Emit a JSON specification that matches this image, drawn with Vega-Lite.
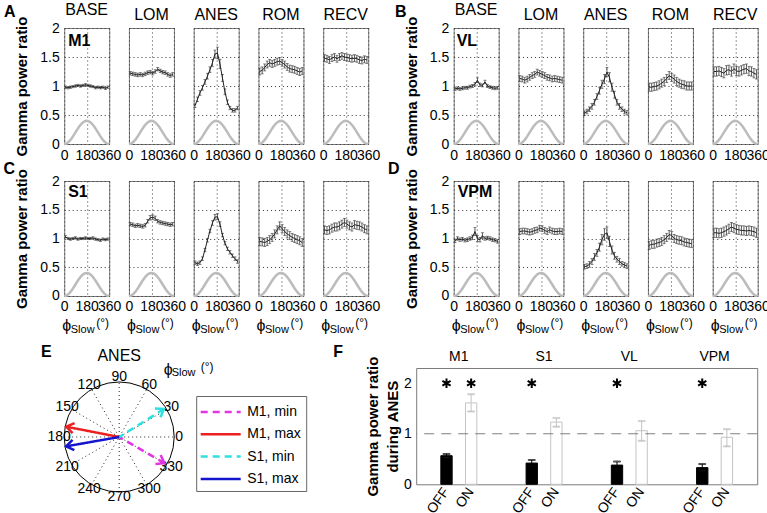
{
"$schema":"https://vega.github.io/schema/vega-lite/v6.json",
"padding":{"left":2.2,"top":1,"right":0,"bottom":0},
"background":"white",
"config":{
 "font":"Liberation Sans",
 "view":{"stroke":"#7a7a7a","strokeWidth":1},
 "axis":{"labelFont":"Liberation Sans","labelFontSize":14,"labelColor":"#000","titleFont":"Liberation Sans","titleColor":"#000","titleFontSize":15,"titleFontWeight":"bold","ticks":false,"domain":false,"gridDash":[1,3],"gridColor":"#333","gridOpacity":1,"labelFlush":false,"labelOverlap":false,"labelBound":false},
 "title":{"font":"Liberation Sans","fontSize":16,"fontWeight":"normal","offset":5,"color":"#000","frame":"group"},
 "text":{"font":"Liberation Sans","color":"#000"}
},
"datasets":{
 "cos":[{"p":0,"m":0},{"p":10,"m":0.003},{"p":20,"m":0.012},{"p":30,"m":0.0268},{"p":40,"m":0.0468},{"p":50,"m":0.0714},{"p":60,"m":0.1},{"p":70,"m":0.1316},{"p":80,"m":0.1653},{"p":90,"m":0.2},{"p":100,"m":0.2347},{"p":110,"m":0.2684},{"p":120,"m":0.3},{"p":130,"m":0.3286},{"p":140,"m":0.3532},{"p":150,"m":0.3732},{"p":160,"m":0.3879},{"p":170,"m":0.397},{"p":180,"m":0.4},{"p":190,"m":0.397},{"p":200,"m":0.3879},{"p":210,"m":0.3732},{"p":220,"m":0.3532},{"p":230,"m":0.3286},{"p":240,"m":0.3},{"p":250,"m":0.2684},{"p":260,"m":0.2347},{"p":270,"m":0.2},{"p":280,"m":0.1653},{"p":290,"m":0.1316},{"p":300,"m":0.1},{"p":310,"m":0.0714},{"p":320,"m":0.0468},{"p":330,"m":0.0268},{"p":340,"m":0.012},{"p":350,"m":0.003},{"p":360,"m":0}],
 "g":[
{"r":"M1","c":"BASE","p":10,"m":0.98,"e":0.02},{"r":"M1","c":"BASE","p":30,"m":0.97,"e":0.02},{"r":"M1","c":"BASE","p":50,"m":0.98,"e":0.02},{"r":"M1","c":"BASE","p":70,"m":0.99,"e":0.02},{"r":"M1","c":"BASE","p":90,"m":1.0,"e":0.02},{"r":"M1","c":"BASE","p":110,"m":1.01,"e":0.02},{"r":"M1","c":"BASE","p":130,"m":1.0,"e":0.02},{"r":"M1","c":"BASE","p":150,"m":1.01,"e":0.02},{"r":"M1","c":"BASE","p":170,"m":1.02,"e":0.02},{"r":"M1","c":"BASE","p":190,"m":1.01,"e":0.02},{"r":"M1","c":"BASE","p":210,"m":1.0,"e":0.02},{"r":"M1","c":"BASE","p":230,"m":0.99,"e":0.02},{"r":"M1","c":"BASE","p":250,"m":0.97,"e":0.02},{"r":"M1","c":"BASE","p":270,"m":0.98,"e":0.02},{"r":"M1","c":"BASE","p":290,"m":0.97,"e":0.02},{"r":"M1","c":"BASE","p":310,"m":0.98,"e":0.02},{"r":"M1","c":"BASE","p":330,"m":0.96,"e":0.02},{"r":"M1","c":"BASE","p":350,"m":0.98,"e":0.02},
{"r":"M1","c":"LOM","p":10,"m":1.22,"e":0.03},{"r":"M1","c":"LOM","p":30,"m":1.21,"e":0.03},{"r":"M1","c":"LOM","p":50,"m":1.2,"e":0.03},{"r":"M1","c":"LOM","p":70,"m":1.19,"e":0.03},{"r":"M1","c":"LOM","p":90,"m":1.2,"e":0.03},{"r":"M1","c":"LOM","p":110,"m":1.19,"e":0.03},{"r":"M1","c":"LOM","p":130,"m":1.21,"e":0.03},{"r":"M1","c":"LOM","p":150,"m":1.23,"e":0.03},{"r":"M1","c":"LOM","p":170,"m":1.24,"e":0.03},{"r":"M1","c":"LOM","p":190,"m":1.22,"e":0.03},{"r":"M1","c":"LOM","p":210,"m":1.25,"e":0.03},{"r":"M1","c":"LOM","p":230,"m":1.29,"e":0.03},{"r":"M1","c":"LOM","p":250,"m":1.26,"e":0.03},{"r":"M1","c":"LOM","p":270,"m":1.24,"e":0.03},{"r":"M1","c":"LOM","p":290,"m":1.23,"e":0.03},{"r":"M1","c":"LOM","p":310,"m":1.2,"e":0.03},{"r":"M1","c":"LOM","p":330,"m":1.18,"e":0.03},{"r":"M1","c":"LOM","p":350,"m":1.2,"e":0.03},
{"r":"M1","c":"ANES","p":10,"m":0.66,"e":0.03},{"r":"M1","c":"ANES","p":30,"m":0.77,"e":0.04},{"r":"M1","c":"ANES","p":50,"m":0.88,"e":0.04},{"r":"M1","c":"ANES","p":70,"m":0.97,"e":0.04},{"r":"M1","c":"ANES","p":90,"m":1.07,"e":0.04},{"r":"M1","c":"ANES","p":110,"m":1.17,"e":0.05},{"r":"M1","c":"ANES","p":130,"m":1.28,"e":0.05},{"r":"M1","c":"ANES","p":150,"m":1.4,"e":0.06},{"r":"M1","c":"ANES","p":170,"m":1.55,"e":0.07},{"r":"M1","c":"ANES","p":190,"m":1.57,"e":0.1},{"r":"M1","c":"ANES","p":210,"m":1.38,"e":0.08},{"r":"M1","c":"ANES","p":230,"m":1.14,"e":0.06},{"r":"M1","c":"ANES","p":250,"m":0.9,"e":0.05},{"r":"M1","c":"ANES","p":270,"m":0.72,"e":0.04},{"r":"M1","c":"ANES","p":290,"m":0.62,"e":0.03},{"r":"M1","c":"ANES","p":310,"m":0.58,"e":0.03},{"r":"M1","c":"ANES","p":330,"m":0.58,"e":0.03},{"r":"M1","c":"ANES","p":350,"m":0.62,"e":0.03},
{"r":"M1","c":"ROM","p":10,"m":1.25,"e":0.06},{"r":"M1","c":"ROM","p":30,"m":1.27,"e":0.06},{"r":"M1","c":"ROM","p":50,"m":1.32,"e":0.06},{"r":"M1","c":"ROM","p":70,"m":1.37,"e":0.06},{"r":"M1","c":"ROM","p":90,"m":1.4,"e":0.06},{"r":"M1","c":"ROM","p":110,"m":1.38,"e":0.06},{"r":"M1","c":"ROM","p":130,"m":1.4,"e":0.06},{"r":"M1","c":"ROM","p":150,"m":1.42,"e":0.06},{"r":"M1","c":"ROM","p":170,"m":1.43,"e":0.06},{"r":"M1","c":"ROM","p":190,"m":1.4,"e":0.06},{"r":"M1","c":"ROM","p":210,"m":1.37,"e":0.06},{"r":"M1","c":"ROM","p":230,"m":1.33,"e":0.06},{"r":"M1","c":"ROM","p":250,"m":1.3,"e":0.06},{"r":"M1","c":"ROM","p":270,"m":1.29,"e":0.06},{"r":"M1","c":"ROM","p":290,"m":1.28,"e":0.06},{"r":"M1","c":"ROM","p":310,"m":1.26,"e":0.06},{"r":"M1","c":"ROM","p":330,"m":1.24,"e":0.06},{"r":"M1","c":"ROM","p":350,"m":1.26,"e":0.06},
{"r":"M1","c":"RECV","p":10,"m":1.48,"e":0.06},{"r":"M1","c":"RECV","p":30,"m":1.47,"e":0.06},{"r":"M1","c":"RECV","p":50,"m":1.45,"e":0.06},{"r":"M1","c":"RECV","p":70,"m":1.48,"e":0.06},{"r":"M1","c":"RECV","p":90,"m":1.5,"e":0.06},{"r":"M1","c":"RECV","p":110,"m":1.47,"e":0.06},{"r":"M1","c":"RECV","p":130,"m":1.5,"e":0.06},{"r":"M1","c":"RECV","p":150,"m":1.52,"e":0.06},{"r":"M1","c":"RECV","p":170,"m":1.5,"e":0.06},{"r":"M1","c":"RECV","p":190,"m":1.49,"e":0.06},{"r":"M1","c":"RECV","p":210,"m":1.48,"e":0.06},{"r":"M1","c":"RECV","p":230,"m":1.47,"e":0.06},{"r":"M1","c":"RECV","p":250,"m":1.48,"e":0.06},{"r":"M1","c":"RECV","p":270,"m":1.47,"e":0.06},{"r":"M1","c":"RECV","p":290,"m":1.45,"e":0.06},{"r":"M1","c":"RECV","p":310,"m":1.44,"e":0.06},{"r":"M1","c":"RECV","p":330,"m":1.46,"e":0.06},{"r":"M1","c":"RECV","p":350,"m":1.45,"e":0.06},
{"r":"VL","c":"BASE","p":10,"m":0.95,"e":0.025},{"r":"VL","c":"BASE","p":30,"m":0.96,"e":0.025},{"r":"VL","c":"BASE","p":50,"m":0.95,"e":0.025},{"r":"VL","c":"BASE","p":70,"m":0.96,"e":0.025},{"r":"VL","c":"BASE","p":90,"m":0.97,"e":0.025},{"r":"VL","c":"BASE","p":110,"m":0.97,"e":0.025},{"r":"VL","c":"BASE","p":130,"m":0.99,"e":0.025},{"r":"VL","c":"BASE","p":150,"m":1.0,"e":0.025},{"r":"VL","c":"BASE","p":170,"m":1.03,"e":0.03},{"r":"VL","c":"BASE","p":190,"m":1.1,"e":0.04},{"r":"VL","c":"BASE","p":210,"m":1.02,"e":0.03},{"r":"VL","c":"BASE","p":230,"m":1.01,"e":0.025},{"r":"VL","c":"BASE","p":250,"m":1.07,"e":0.03},{"r":"VL","c":"BASE","p":270,"m":1.0,"e":0.025},{"r":"VL","c":"BASE","p":290,"m":0.98,"e":0.025},{"r":"VL","c":"BASE","p":310,"m":0.97,"e":0.025},{"r":"VL","c":"BASE","p":330,"m":0.96,"e":0.025},{"r":"VL","c":"BASE","p":350,"m":0.97,"e":0.025},
{"r":"VL","c":"LOM","p":10,"m":1.13,"e":0.05},{"r":"VL","c":"LOM","p":30,"m":1.12,"e":0.05},{"r":"VL","c":"LOM","p":50,"m":1.1,"e":0.05},{"r":"VL","c":"LOM","p":70,"m":1.12,"e":0.05},{"r":"VL","c":"LOM","p":90,"m":1.15,"e":0.05},{"r":"VL","c":"LOM","p":110,"m":1.18,"e":0.05},{"r":"VL","c":"LOM","p":130,"m":1.2,"e":0.05},{"r":"VL","c":"LOM","p":150,"m":1.24,"e":0.05},{"r":"VL","c":"LOM","p":170,"m":1.22,"e":0.05},{"r":"VL","c":"LOM","p":190,"m":1.2,"e":0.05},{"r":"VL","c":"LOM","p":210,"m":1.18,"e":0.05},{"r":"VL","c":"LOM","p":230,"m":1.15,"e":0.05},{"r":"VL","c":"LOM","p":250,"m":1.14,"e":0.05},{"r":"VL","c":"LOM","p":270,"m":1.12,"e":0.05},{"r":"VL","c":"LOM","p":290,"m":1.13,"e":0.05},{"r":"VL","c":"LOM","p":310,"m":1.12,"e":0.05},{"r":"VL","c":"LOM","p":330,"m":1.11,"e":0.05},{"r":"VL","c":"LOM","p":350,"m":1.1,"e":0.05},
{"r":"VL","c":"ANES","p":10,"m":0.53,"e":0.04},{"r":"VL","c":"ANES","p":30,"m":0.56,"e":0.04},{"r":"VL","c":"ANES","p":50,"m":0.6,"e":0.04},{"r":"VL","c":"ANES","p":70,"m":0.65,"e":0.05},{"r":"VL","c":"ANES","p":90,"m":0.72,"e":0.05},{"r":"VL","c":"ANES","p":110,"m":0.82,"e":0.05},{"r":"VL","c":"ANES","p":130,"m":0.92,"e":0.06},{"r":"VL","c":"ANES","p":150,"m":1.03,"e":0.07},{"r":"VL","c":"ANES","p":170,"m":1.12,"e":0.08},{"r":"VL","c":"ANES","p":190,"m":1.24,"e":0.08},{"r":"VL","c":"ANES","p":210,"m":1.15,"e":0.08},{"r":"VL","c":"ANES","p":230,"m":0.98,"e":0.07},{"r":"VL","c":"ANES","p":250,"m":0.85,"e":0.06},{"r":"VL","c":"ANES","p":270,"m":0.72,"e":0.05},{"r":"VL","c":"ANES","p":290,"m":0.65,"e":0.05},{"r":"VL","c":"ANES","p":310,"m":0.6,"e":0.04},{"r":"VL","c":"ANES","p":330,"m":0.56,"e":0.04},{"r":"VL","c":"ANES","p":350,"m":0.54,"e":0.04},
{"r":"VL","c":"ROM","p":10,"m":0.98,"e":0.07},{"r":"VL","c":"ROM","p":30,"m":0.98,"e":0.07},{"r":"VL","c":"ROM","p":50,"m":0.99,"e":0.07},{"r":"VL","c":"ROM","p":70,"m":1.0,"e":0.07},{"r":"VL","c":"ROM","p":90,"m":1.02,"e":0.07},{"r":"VL","c":"ROM","p":110,"m":1.05,"e":0.07},{"r":"VL","c":"ROM","p":130,"m":1.08,"e":0.07},{"r":"VL","c":"ROM","p":150,"m":1.13,"e":0.07},{"r":"VL","c":"ROM","p":170,"m":1.18,"e":0.07},{"r":"VL","c":"ROM","p":190,"m":1.15,"e":0.07},{"r":"VL","c":"ROM","p":210,"m":1.12,"e":0.07},{"r":"VL","c":"ROM","p":230,"m":1.08,"e":0.07},{"r":"VL","c":"ROM","p":250,"m":1.05,"e":0.07},{"r":"VL","c":"ROM","p":270,"m":1.03,"e":0.07},{"r":"VL","c":"ROM","p":290,"m":1.02,"e":0.07},{"r":"VL","c":"ROM","p":310,"m":1.0,"e":0.07},{"r":"VL","c":"ROM","p":330,"m":1.0,"e":0.07},{"r":"VL","c":"ROM","p":350,"m":1.0,"e":0.07},
{"r":"VL","c":"RECV","p":10,"m":1.25,"e":0.08},{"r":"VL","c":"RECV","p":30,"m":1.25,"e":0.08},{"r":"VL","c":"RECV","p":50,"m":1.26,"e":0.08},{"r":"VL","c":"RECV","p":70,"m":1.24,"e":0.08},{"r":"VL","c":"RECV","p":90,"m":1.22,"e":0.08},{"r":"VL","c":"RECV","p":110,"m":1.27,"e":0.08},{"r":"VL","c":"RECV","p":130,"m":1.28,"e":0.08},{"r":"VL","c":"RECV","p":150,"m":1.25,"e":0.08},{"r":"VL","c":"RECV","p":170,"m":1.3,"e":0.08},{"r":"VL","c":"RECV","p":190,"m":1.26,"e":0.08},{"r":"VL","c":"RECV","p":210,"m":1.25,"e":0.08},{"r":"VL","c":"RECV","p":230,"m":1.27,"e":0.08},{"r":"VL","c":"RECV","p":250,"m":1.29,"e":0.08},{"r":"VL","c":"RECV","p":270,"m":1.3,"e":0.08},{"r":"VL","c":"RECV","p":290,"m":1.26,"e":0.08},{"r":"VL","c":"RECV","p":310,"m":1.25,"e":0.08},{"r":"VL","c":"RECV","p":330,"m":1.22,"e":0.08},{"r":"VL","c":"RECV","p":350,"m":1.2,"e":0.08},
{"r":"S1","c":"BASE","p":10,"m":1.03,"e":0.02},{"r":"S1","c":"BASE","p":30,"m":1.0,"e":0.02},{"r":"S1","c":"BASE","p":50,"m":0.99,"e":0.02},{"r":"S1","c":"BASE","p":70,"m":1.0,"e":0.02},{"r":"S1","c":"BASE","p":90,"m":1.01,"e":0.02},{"r":"S1","c":"BASE","p":110,"m":0.99,"e":0.02},{"r":"S1","c":"BASE","p":130,"m":1.0,"e":0.02},{"r":"S1","c":"BASE","p":150,"m":1.0,"e":0.02},{"r":"S1","c":"BASE","p":170,"m":1.01,"e":0.02},{"r":"S1","c":"BASE","p":190,"m":1.0,"e":0.02},{"r":"S1","c":"BASE","p":210,"m":1.0,"e":0.02},{"r":"S1","c":"BASE","p":230,"m":1.01,"e":0.02},{"r":"S1","c":"BASE","p":250,"m":0.99,"e":0.02},{"r":"S1","c":"BASE","p":270,"m":0.98,"e":0.02},{"r":"S1","c":"BASE","p":290,"m":0.97,"e":0.02},{"r":"S1","c":"BASE","p":310,"m":0.99,"e":0.02},{"r":"S1","c":"BASE","p":330,"m":0.98,"e":0.02},{"r":"S1","c":"BASE","p":350,"m":0.99,"e":0.02},
{"r":"S1","c":"LOM","p":10,"m":1.25,"e":0.03},{"r":"S1","c":"LOM","p":30,"m":1.24,"e":0.03},{"r":"S1","c":"LOM","p":50,"m":1.22,"e":0.03},{"r":"S1","c":"LOM","p":70,"m":1.23,"e":0.03},{"r":"S1","c":"LOM","p":90,"m":1.22,"e":0.03},{"r":"S1","c":"LOM","p":110,"m":1.21,"e":0.03},{"r":"S1","c":"LOM","p":130,"m":1.23,"e":0.03},{"r":"S1","c":"LOM","p":150,"m":1.3,"e":0.03},{"r":"S1","c":"LOM","p":170,"m":1.36,"e":0.04},{"r":"S1","c":"LOM","p":190,"m":1.37,"e":0.04},{"r":"S1","c":"LOM","p":210,"m":1.35,"e":0.04},{"r":"S1","c":"LOM","p":230,"m":1.3,"e":0.03},{"r":"S1","c":"LOM","p":250,"m":1.28,"e":0.03},{"r":"S1","c":"LOM","p":270,"m":1.27,"e":0.03},{"r":"S1","c":"LOM","p":290,"m":1.26,"e":0.03},{"r":"S1","c":"LOM","p":310,"m":1.25,"e":0.03},{"r":"S1","c":"LOM","p":330,"m":1.24,"e":0.03},{"r":"S1","c":"LOM","p":350,"m":1.25,"e":0.03},
{"r":"S1","c":"ANES","p":10,"m":0.58,"e":0.03},{"r":"S1","c":"ANES","p":30,"m":0.56,"e":0.03},{"r":"S1","c":"ANES","p":50,"m":0.58,"e":0.03},{"r":"S1","c":"ANES","p":70,"m":0.65,"e":0.03},{"r":"S1","c":"ANES","p":90,"m":0.8,"e":0.03},{"r":"S1","c":"ANES","p":110,"m":0.97,"e":0.03},{"r":"S1","c":"ANES","p":130,"m":1.13,"e":0.03},{"r":"S1","c":"ANES","p":150,"m":1.27,"e":0.04},{"r":"S1","c":"ANES","p":170,"m":1.37,"e":0.05},{"r":"S1","c":"ANES","p":190,"m":1.38,"e":0.05},{"r":"S1","c":"ANES","p":210,"m":1.25,"e":0.04},{"r":"S1","c":"ANES","p":230,"m":1.06,"e":0.03},{"r":"S1","c":"ANES","p":250,"m":0.92,"e":0.03},{"r":"S1","c":"ANES","p":270,"m":0.82,"e":0.03},{"r":"S1","c":"ANES","p":290,"m":0.76,"e":0.03},{"r":"S1","c":"ANES","p":310,"m":0.7,"e":0.03},{"r":"S1","c":"ANES","p":330,"m":0.65,"e":0.03},{"r":"S1","c":"ANES","p":350,"m":0.6,"e":0.03},
{"r":"S1","c":"ROM","p":10,"m":0.95,"e":0.07},{"r":"S1","c":"ROM","p":30,"m":0.94,"e":0.07},{"r":"S1","c":"ROM","p":50,"m":0.93,"e":0.07},{"r":"S1","c":"ROM","p":70,"m":0.95,"e":0.07},{"r":"S1","c":"ROM","p":90,"m":0.98,"e":0.07},{"r":"S1","c":"ROM","p":110,"m":1.02,"e":0.07},{"r":"S1","c":"ROM","p":130,"m":1.08,"e":0.07},{"r":"S1","c":"ROM","p":150,"m":1.15,"e":0.07},{"r":"S1","c":"ROM","p":170,"m":1.22,"e":0.07},{"r":"S1","c":"ROM","p":190,"m":1.17,"e":0.07},{"r":"S1","c":"ROM","p":210,"m":1.12,"e":0.07},{"r":"S1","c":"ROM","p":230,"m":1.08,"e":0.07},{"r":"S1","c":"ROM","p":250,"m":1.05,"e":0.07},{"r":"S1","c":"ROM","p":270,"m":1.02,"e":0.07},{"r":"S1","c":"ROM","p":290,"m":1.0,"e":0.07},{"r":"S1","c":"ROM","p":310,"m":0.98,"e":0.07},{"r":"S1","c":"ROM","p":330,"m":0.96,"e":0.07},{"r":"S1","c":"ROM","p":350,"m":0.93,"e":0.07},
{"r":"S1","c":"RECV","p":10,"m":1.15,"e":0.07},{"r":"S1","c":"RECV","p":30,"m":1.14,"e":0.07},{"r":"S1","c":"RECV","p":50,"m":1.15,"e":0.07},{"r":"S1","c":"RECV","p":70,"m":1.18,"e":0.07},{"r":"S1","c":"RECV","p":90,"m":1.2,"e":0.07},{"r":"S1","c":"RECV","p":110,"m":1.2,"e":0.07},{"r":"S1","c":"RECV","p":130,"m":1.22,"e":0.07},{"r":"S1","c":"RECV","p":150,"m":1.25,"e":0.07},{"r":"S1","c":"RECV","p":170,"m":1.28,"e":0.07},{"r":"S1","c":"RECV","p":190,"m":1.25,"e":0.07},{"r":"S1","c":"RECV","p":210,"m":1.22,"e":0.07},{"r":"S1","c":"RECV","p":230,"m":1.2,"e":0.07},{"r":"S1","c":"RECV","p":250,"m":1.24,"e":0.07},{"r":"S1","c":"RECV","p":270,"m":1.23,"e":0.07},{"r":"S1","c":"RECV","p":290,"m":1.22,"e":0.07},{"r":"S1","c":"RECV","p":310,"m":1.2,"e":0.07},{"r":"S1","c":"RECV","p":330,"m":1.17,"e":0.07},{"r":"S1","c":"RECV","p":350,"m":1.15,"e":0.07},
{"r":"VPM","c":"BASE","p":10,"m":0.96,"e":0.03},{"r":"VPM","c":"BASE","p":30,"m":1.0,"e":0.03},{"r":"VPM","c":"BASE","p":50,"m":0.98,"e":0.03},{"r":"VPM","c":"BASE","p":70,"m":0.99,"e":0.03},{"r":"VPM","c":"BASE","p":90,"m":0.97,"e":0.03},{"r":"VPM","c":"BASE","p":110,"m":0.98,"e":0.03},{"r":"VPM","c":"BASE","p":130,"m":1.0,"e":0.03},{"r":"VPM","c":"BASE","p":150,"m":1.02,"e":0.04},{"r":"VPM","c":"BASE","p":170,"m":1.12,"e":0.07},{"r":"VPM","c":"BASE","p":190,"m":1.0,"e":0.05},{"r":"VPM","c":"BASE","p":210,"m":0.98,"e":0.04},{"r":"VPM","c":"BASE","p":230,"m":1.05,"e":0.05},{"r":"VPM","c":"BASE","p":250,"m":1.0,"e":0.03},{"r":"VPM","c":"BASE","p":270,"m":1.01,"e":0.03},{"r":"VPM","c":"BASE","p":290,"m":1.0,"e":0.03},{"r":"VPM","c":"BASE","p":310,"m":0.98,"e":0.03},{"r":"VPM","c":"BASE","p":330,"m":0.97,"e":0.03},{"r":"VPM","c":"BASE","p":350,"m":0.95,"e":0.03},
{"r":"VPM","c":"LOM","p":10,"m":1.12,"e":0.05},{"r":"VPM","c":"LOM","p":30,"m":1.13,"e":0.05},{"r":"VPM","c":"LOM","p":50,"m":1.13,"e":0.05},{"r":"VPM","c":"LOM","p":70,"m":1.12,"e":0.05},{"r":"VPM","c":"LOM","p":90,"m":1.11,"e":0.05},{"r":"VPM","c":"LOM","p":110,"m":1.12,"e":0.05},{"r":"VPM","c":"LOM","p":130,"m":1.14,"e":0.05},{"r":"VPM","c":"LOM","p":150,"m":1.15,"e":0.05},{"r":"VPM","c":"LOM","p":170,"m":1.18,"e":0.05},{"r":"VPM","c":"LOM","p":190,"m":1.17,"e":0.05},{"r":"VPM","c":"LOM","p":210,"m":1.14,"e":0.05},{"r":"VPM","c":"LOM","p":230,"m":1.12,"e":0.05},{"r":"VPM","c":"LOM","p":250,"m":1.15,"e":0.05},{"r":"VPM","c":"LOM","p":270,"m":1.13,"e":0.05},{"r":"VPM","c":"LOM","p":290,"m":1.12,"e":0.05},{"r":"VPM","c":"LOM","p":310,"m":1.12,"e":0.05},{"r":"VPM","c":"LOM","p":330,"m":1.13,"e":0.05},{"r":"VPM","c":"LOM","p":350,"m":1.12,"e":0.05},
{"r":"VPM","c":"ANES","p":10,"m":0.51,"e":0.04},{"r":"VPM","c":"ANES","p":30,"m":0.52,"e":0.04},{"r":"VPM","c":"ANES","p":50,"m":0.55,"e":0.05},{"r":"VPM","c":"ANES","p":70,"m":0.6,"e":0.05},{"r":"VPM","c":"ANES","p":90,"m":0.68,"e":0.06},{"r":"VPM","c":"ANES","p":110,"m":0.75,"e":0.06},{"r":"VPM","c":"ANES","p":130,"m":0.85,"e":0.07},{"r":"VPM","c":"ANES","p":150,"m":0.98,"e":0.09},{"r":"VPM","c":"ANES","p":170,"m":1.07,"e":0.1},{"r":"VPM","c":"ANES","p":190,"m":1.1,"e":0.1},{"r":"VPM","c":"ANES","p":210,"m":0.95,"e":0.09},{"r":"VPM","c":"ANES","p":230,"m":0.8,"e":0.07},{"r":"VPM","c":"ANES","p":250,"m":0.7,"e":0.06},{"r":"VPM","c":"ANES","p":270,"m":0.64,"e":0.05},{"r":"VPM","c":"ANES","p":290,"m":0.6,"e":0.05},{"r":"VPM","c":"ANES","p":310,"m":0.56,"e":0.04},{"r":"VPM","c":"ANES","p":330,"m":0.54,"e":0.04},{"r":"VPM","c":"ANES","p":350,"m":0.52,"e":0.04},
{"r":"VPM","c":"ROM","p":10,"m":0.88,"e":0.07},{"r":"VPM","c":"ROM","p":30,"m":0.9,"e":0.07},{"r":"VPM","c":"ROM","p":50,"m":0.9,"e":0.07},{"r":"VPM","c":"ROM","p":70,"m":0.92,"e":0.07},{"r":"VPM","c":"ROM","p":90,"m":0.93,"e":0.07},{"r":"VPM","c":"ROM","p":110,"m":0.95,"e":0.07},{"r":"VPM","c":"ROM","p":130,"m":0.98,"e":0.07},{"r":"VPM","c":"ROM","p":150,"m":1.02,"e":0.07},{"r":"VPM","c":"ROM","p":170,"m":1.07,"e":0.07},{"r":"VPM","c":"ROM","p":190,"m":1.05,"e":0.07},{"r":"VPM","c":"ROM","p":210,"m":1.0,"e":0.07},{"r":"VPM","c":"ROM","p":230,"m":0.98,"e":0.07},{"r":"VPM","c":"ROM","p":250,"m":0.97,"e":0.07},{"r":"VPM","c":"ROM","p":270,"m":0.96,"e":0.07},{"r":"VPM","c":"ROM","p":290,"m":0.94,"e":0.07},{"r":"VPM","c":"ROM","p":310,"m":0.93,"e":0.07},{"r":"VPM","c":"ROM","p":330,"m":0.92,"e":0.07},{"r":"VPM","c":"ROM","p":350,"m":0.91,"e":0.07},
{"r":"VPM","c":"RECV","p":10,"m":1.1,"e":0.08},{"r":"VPM","c":"RECV","p":30,"m":1.1,"e":0.08},{"r":"VPM","c":"RECV","p":50,"m":1.09,"e":0.08},{"r":"VPM","c":"RECV","p":70,"m":1.1,"e":0.08},{"r":"VPM","c":"RECV","p":90,"m":1.12,"e":0.08},{"r":"VPM","c":"RECV","p":110,"m":1.14,"e":0.08},{"r":"VPM","c":"RECV","p":130,"m":1.17,"e":0.08},{"r":"VPM","c":"RECV","p":150,"m":1.2,"e":0.08},{"r":"VPM","c":"RECV","p":170,"m":1.18,"e":0.08},{"r":"VPM","c":"RECV","p":190,"m":1.16,"e":0.08},{"r":"VPM","c":"RECV","p":210,"m":1.15,"e":0.08},{"r":"VPM","c":"RECV","p":230,"m":1.14,"e":0.08},{"r":"VPM","c":"RECV","p":250,"m":1.14,"e":0.08},{"r":"VPM","c":"RECV","p":270,"m":1.13,"e":0.08},{"r":"VPM","c":"RECV","p":290,"m":1.14,"e":0.08},{"r":"VPM","c":"RECV","p":310,"m":1.13,"e":0.08},{"r":"VPM","c":"RECV","p":330,"m":1.12,"e":0.08},{"r":"VPM","c":"RECV","p":350,"m":1.1,"e":0.08}
 ],
 "bars":[
  {"r":"M1","s":"OFF","m":0.566,"lo":0.53,"hi":0.6,"a":1},
  {"r":"M1","s":"ON","m":1.61,"lo":1.44,"hi":1.78,"a":1},
  {"r":"S1","s":"OFF","m":0.42,"lo":0.36,"hi":0.48,"a":1},
  {"r":"S1","s":"ON","m":1.23,"lo":1.14,"hi":1.31,"a":0},
  {"r":"VL","s":"OFF","m":0.38,"lo":0.3,"hi":0.45,"a":1},
  {"r":"VL","s":"ON","m":1.06,"lo":0.86,"hi":1.25,"a":0},
  {"r":"VPM","s":"OFF","m":0.33,"lo":0.27,"hi":0.4,"a":1},
  {"r":"VPM","s":"ON","m":0.93,"lo":0.75,"hi":1.09,"a":0}
 ],
 "spokes":[{"x":-1,"y":0,"x2":1,"y2":0},{"x":-0.866,"y":-0.5,"x2":0.866,"y2":0.5},{"x":-0.5,"y":-0.866,"x2":0.5,"y2":0.866},{"x":0,"y":-1,"x2":0,"y2":1},{"x":0.5,"y":-0.866,"x2":-0.5,"y2":0.866},{"x":0.866,"y":-0.5,"x2":-0.866,"y2":0.5}],
 "plab":[{"deg":0,"t":"0"},{"deg":30,"t":"30"},{"deg":60,"t":"60"},{"deg":90,"t":"90"},{"deg":120,"t":"120"},{"deg":150,"t":"150"},{"deg":180,"t":"180"},{"deg":210,"t":"210"},{"deg":240,"t":"240"},{"deg":270,"t":"270"},{"deg":300,"t":"300"},{"deg":330,"t":"330"}],
 "arr":[{"s":"M1, min","x":0.823,"y":-0.475,"ang":30},{"s":"M1, max","x":-0.962,"y":0.187,"ang":-169},{"s":"S1, min","x":0.814,"y":0.509,"ang":-32},{"s":"S1, max","x":-0.965,"y":-0.17,"ang":-190}]
},
"resolve":{"scale":{"color":"independent","strokeDash":"independent"}},
"spacing":7,
"vconcat":[
 {"columns":11,"align":"each","bounds":"flush","spacing":{"row":37,"column":19.75},
  "concat":[
    {"width":45,"height":116,"title":{"text":"BASE","offset":-2},"resolve":{"axis":{"x":"independent","y":"independent"}},"layer":[{"encoding":{"x":{"field":"p","type":"quantitative","scale":{"domain":[0,360],"nice":false},"axis":{"values":[0,180,360],"title":null,"labelPadding":4,"labelOverlap":false}},"y":{"field":"m","type":"quantitative","scale":{"domain":[0,2],"nice":false},"axis":{"values":[0,0.5,1,1.5,2],"format":"~g","title":"Gamma power ratio","labelPadding":5,"titlePadding":10,"labelOverlap":false}}},"layer":[{"data":{"name":"cos"},"mark":{"type":"line","color":"#bcbcbc","strokeWidth":2.5}},{"data":{"name":"g"},"transform":[{"filter":"datum.r=='M1'&&datum.c=='BASE'"}],"layer":[{"mark":{"type":"errorbar","ticks":{"size":3},"color":"#333","thickness":0.8},"encoding":{"yError":{"field":"e"}}},{"mark":{"type":"line","color":"#222","strokeWidth":1}}]}]},
      {"data":{"values":[{}]},"mark":{"type":"text","text":"M1","fontSize":16,"fontWeight":"bold","align":"left","baseline":"middle","dx":4,"dy":12.5},"encoding":{"x":{"datum":0,"axis":null},"y":{"datum":2,"axis":null}}}]},
    {"width":45,"height":116,"title":"LOM","layer":[{"encoding":{"x":{"field":"p","type":"quantitative","scale":{"domain":[0,360],"nice":false},"axis":{"values":[0,180,360],"title":null,"labelPadding":4,"labelOverlap":false}},"y":{"field":"m","type":"quantitative","scale":{"domain":[0,2],"nice":false},"axis":{"values":[0,0.5,1,1.5,2],"title":null,"labels":false}}},"layer":[{"data":{"name":"cos"},"mark":{"type":"line","color":"#bcbcbc","strokeWidth":2.5}},{"data":{"name":"g"},"transform":[{"filter":"datum.r=='M1'&&datum.c=='LOM'"}],"layer":[{"mark":{"type":"errorbar","ticks":{"size":3},"color":"#333","thickness":0.8},"encoding":{"yError":{"field":"e"}}},{"mark":{"type":"line","color":"#222","strokeWidth":1}}]}]}]},
    {"width":45,"height":116,"title":"ANES","layer":[{"encoding":{"x":{"field":"p","type":"quantitative","scale":{"domain":[0,360],"nice":false},"axis":{"values":[0,180,360],"title":null,"labelPadding":4,"labelOverlap":false}},"y":{"field":"m","type":"quantitative","scale":{"domain":[0,2],"nice":false},"axis":{"values":[0,0.5,1,1.5,2],"title":null,"labels":false}}},"layer":[{"data":{"name":"cos"},"mark":{"type":"line","color":"#bcbcbc","strokeWidth":2.5}},{"data":{"name":"g"},"transform":[{"filter":"datum.r=='M1'&&datum.c=='ANES'"}],"layer":[{"mark":{"type":"errorbar","ticks":{"size":3},"color":"#333","thickness":0.8},"encoding":{"yError":{"field":"e"}}},{"mark":{"type":"line","color":"#222","strokeWidth":1}}]}]}]},
    {"width":45,"height":116,"title":"ROM","layer":[{"encoding":{"x":{"field":"p","type":"quantitative","scale":{"domain":[0,360],"nice":false},"axis":{"values":[0,180,360],"title":null,"labelPadding":4,"labelOverlap":false}},"y":{"field":"m","type":"quantitative","scale":{"domain":[0,2],"nice":false},"axis":{"values":[0,0.5,1,1.5,2],"title":null,"labels":false}}},"layer":[{"data":{"name":"cos"},"mark":{"type":"line","color":"#bcbcbc","strokeWidth":2.5}},{"data":{"name":"g"},"transform":[{"filter":"datum.r=='M1'&&datum.c=='ROM'"}],"layer":[{"mark":{"type":"errorbar","ticks":{"size":3},"color":"#333","thickness":0.8},"encoding":{"yError":{"field":"e"}}},{"mark":{"type":"line","color":"#222","strokeWidth":1}}]}]}]},
    {"width":45,"height":116,"title":"RECV","layer":[{"encoding":{"x":{"field":"p","type":"quantitative","scale":{"domain":[0,360],"nice":false},"axis":{"values":[0,180,360],"title":null,"labelPadding":4,"labelOverlap":false}},"y":{"field":"m","type":"quantitative","scale":{"domain":[0,2],"nice":false},"axis":{"values":[0,0.5,1,1.5,2],"title":null,"labels":false}}},"layer":[{"data":{"name":"cos"},"mark":{"type":"line","color":"#bcbcbc","strokeWidth":2.5}},{"data":{"name":"g"},"transform":[{"filter":"datum.r=='M1'&&datum.c=='RECV'"}],"layer":[{"mark":{"type":"errorbar","ticks":{"size":3},"color":"#333","thickness":0.8},"encoding":{"yError":{"field":"e"}}},{"mark":{"type":"line","color":"#222","strokeWidth":1}}]}]}]},
    {"width":45.5,"height":116,"view":{"stroke":null},"data":{"values":[]},"mark":"point"},
    {"width":45,"height":116,"title":{"text":"BASE","offset":-2},"resolve":{"axis":{"x":"independent","y":"independent"}},"layer":[{"encoding":{"x":{"field":"p","type":"quantitative","scale":{"domain":[0,360],"nice":false},"axis":{"values":[0,180,360],"title":null,"labelPadding":4,"labelOverlap":false}},"y":{"field":"m","type":"quantitative","scale":{"domain":[0,2],"nice":false},"axis":{"values":[0,0.5,1,1.5,2],"format":"~g","title":"Gamma power ratio","labelPadding":5,"titlePadding":10,"labelOverlap":false}}},"layer":[{"data":{"name":"cos"},"mark":{"type":"line","color":"#bcbcbc","strokeWidth":2.5}},{"data":{"name":"g"},"transform":[{"filter":"datum.r=='VL'&&datum.c=='BASE'"}],"layer":[{"mark":{"type":"errorbar","ticks":{"size":3},"color":"#333","thickness":0.8},"encoding":{"yError":{"field":"e"}}},{"mark":{"type":"line","color":"#222","strokeWidth":1}}]}]},
      {"data":{"values":[{}]},"mark":{"type":"text","text":"VL","fontSize":16,"fontWeight":"bold","align":"left","baseline":"middle","dx":3,"dy":12.5},"encoding":{"x":{"datum":0,"axis":null},"y":{"datum":2,"axis":null}}}]},
    {"width":45,"height":116,"title":"LOM","layer":[{"encoding":{"x":{"field":"p","type":"quantitative","scale":{"domain":[0,360],"nice":false},"axis":{"values":[0,180,360],"title":null,"labelPadding":4,"labelOverlap":false}},"y":{"field":"m","type":"quantitative","scale":{"domain":[0,2],"nice":false},"axis":{"values":[0,0.5,1,1.5,2],"title":null,"labels":false}}},"layer":[{"data":{"name":"cos"},"mark":{"type":"line","color":"#bcbcbc","strokeWidth":2.5}},{"data":{"name":"g"},"transform":[{"filter":"datum.r=='VL'&&datum.c=='LOM'"}],"layer":[{"mark":{"type":"errorbar","ticks":{"size":3},"color":"#333","thickness":0.8},"encoding":{"yError":{"field":"e"}}},{"mark":{"type":"line","color":"#222","strokeWidth":1}}]}]}]},
    {"width":45,"height":116,"title":"ANES","layer":[{"encoding":{"x":{"field":"p","type":"quantitative","scale":{"domain":[0,360],"nice":false},"axis":{"values":[0,180,360],"title":null,"labelPadding":4,"labelOverlap":false}},"y":{"field":"m","type":"quantitative","scale":{"domain":[0,2],"nice":false},"axis":{"values":[0,0.5,1,1.5,2],"title":null,"labels":false}}},"layer":[{"data":{"name":"cos"},"mark":{"type":"line","color":"#bcbcbc","strokeWidth":2.5}},{"data":{"name":"g"},"transform":[{"filter":"datum.r=='VL'&&datum.c=='ANES'"}],"layer":[{"mark":{"type":"errorbar","ticks":{"size":3},"color":"#333","thickness":0.8},"encoding":{"yError":{"field":"e"}}},{"mark":{"type":"line","color":"#222","strokeWidth":1}}]}]}]},
    {"width":45,"height":116,"title":"ROM","layer":[{"encoding":{"x":{"field":"p","type":"quantitative","scale":{"domain":[0,360],"nice":false},"axis":{"values":[0,180,360],"title":null,"labelPadding":4,"labelOverlap":false}},"y":{"field":"m","type":"quantitative","scale":{"domain":[0,2],"nice":false},"axis":{"values":[0,0.5,1,1.5,2],"title":null,"labels":false}}},"layer":[{"data":{"name":"cos"},"mark":{"type":"line","color":"#bcbcbc","strokeWidth":2.5}},{"data":{"name":"g"},"transform":[{"filter":"datum.r=='VL'&&datum.c=='ROM'"}],"layer":[{"mark":{"type":"errorbar","ticks":{"size":3},"color":"#333","thickness":0.8},"encoding":{"yError":{"field":"e"}}},{"mark":{"type":"line","color":"#222","strokeWidth":1}}]}]}]},
    {"width":45,"height":116,"title":"RECV","layer":[{"encoding":{"x":{"field":"p","type":"quantitative","scale":{"domain":[0,360],"nice":false},"axis":{"values":[0,180,360],"title":null,"labelPadding":4,"labelOverlap":false}},"y":{"field":"m","type":"quantitative","scale":{"domain":[0,2],"nice":false},"axis":{"values":[0,0.5,1,1.5,2],"title":null,"labels":false}}},"layer":[{"data":{"name":"cos"},"mark":{"type":"line","color":"#bcbcbc","strokeWidth":2.5}},{"data":{"name":"g"},"transform":[{"filter":"datum.r=='VL'&&datum.c=='RECV'"}],"layer":[{"mark":{"type":"errorbar","ticks":{"size":3},"color":"#333","thickness":0.8},"encoding":{"yError":{"field":"e"}}},{"mark":{"type":"line","color":"#222","strokeWidth":1}}]}]}]},
    {"width":45,"height":115,"resolve":{"axis":{"x":"independent","y":"independent"}},"layer":[{"encoding":{"x":{"field":"p","type":"quantitative","scale":{"domain":[0,360],"nice":false},"axis":{"values":[0,180,360],"title":null,"labelPadding":4,"labelOverlap":false}},"y":{"field":"m","type":"quantitative","scale":{"domain":[0,2],"nice":false},"axis":{"values":[0,0.5,1,1.5,2],"format":"~g","title":"Gamma power ratio","labelPadding":5,"titlePadding":10,"labelOverlap":false}}},"layer":[{"data":{"name":"cos"},"mark":{"type":"line","color":"#bcbcbc","strokeWidth":2.5}},{"data":{"name":"g"},"transform":[{"filter":"datum.r=='S1'&&datum.c=='BASE'"}],"layer":[{"mark":{"type":"errorbar","ticks":{"size":3},"color":"#333","thickness":0.8},"encoding":{"yError":{"field":"e"}}},{"mark":{"type":"line","color":"#222","strokeWidth":1}}]}]},
      {"data":{"values":[{}]},"mark":{"type":"text","text":"S1","fontSize":16,"fontWeight":"bold","align":"left","baseline":"middle","dx":4,"dy":11},"encoding":{"x":{"datum":0,"axis":null},"y":{"datum":2,"axis":null}}},
      {"data":{"values":[{}]},"mark":{"type":"text","text":"A","fontSize":16,"fontWeight":"bold","align":"center","baseline":"middle","dx":-54.5,"dy":-169},"encoding":{"x":{"datum":0,"axis":null},"y":{"datum":2,"axis":null}}},
      {"data":{"values":[{}]},"mark":{"type":"text","text":"C","fontSize":16,"fontWeight":"bold","align":"center","baseline":"middle","dx":-55,"dy":-12},"encoding":{"x":{"datum":0,"axis":null},"y":{"datum":2,"axis":null}}},
      {"data":{"values":[{}]},"mark":{"type":"text","text":"ϕ","fontSize":16,"baseline":"middle","dx":-20,"dy":30},"encoding":{"x":{"datum":180,"axis":null},"y":{"datum":0,"axis":null}}},
      {"data":{"values":[{}]},"mark":{"type":"text","text":"Slow","fontSize":11,"baseline":"middle","dx":-4,"dy":34},"encoding":{"x":{"datum":180,"axis":null},"y":{"datum":0,"axis":null}}},
      {"data":{"values":[{}]},"mark":{"type":"text","text":"(°)","fontSize":12,"baseline":"middle","dx":16,"dy":27},"encoding":{"x":{"datum":180,"axis":null},"y":{"datum":0,"axis":null}}}]},
    {"width":45,"height":115,"resolve":{"axis":{"x":"independent","y":"independent"}},"layer":[{"encoding":{"x":{"field":"p","type":"quantitative","scale":{"domain":[0,360],"nice":false},"axis":{"values":[0,180,360],"title":null,"labelPadding":4,"labelOverlap":false}},"y":{"field":"m","type":"quantitative","scale":{"domain":[0,2],"nice":false},"axis":{"values":[0,0.5,1,1.5,2],"title":null,"labels":false}}},"layer":[{"data":{"name":"cos"},"mark":{"type":"line","color":"#bcbcbc","strokeWidth":2.5}},{"data":{"name":"g"},"transform":[{"filter":"datum.r=='S1'&&datum.c=='LOM'"}],"layer":[{"mark":{"type":"errorbar","ticks":{"size":3},"color":"#333","thickness":0.8},"encoding":{"yError":{"field":"e"}}},{"mark":{"type":"line","color":"#222","strokeWidth":1}}]}]},
      {"data":{"values":[{}]},"mark":{"type":"text","text":"ϕ","fontSize":16,"baseline":"middle","dx":-20,"dy":30},"encoding":{"x":{"datum":180,"axis":null},"y":{"datum":0,"axis":null}}},
      {"data":{"values":[{}]},"mark":{"type":"text","text":"Slow","fontSize":11,"baseline":"middle","dx":-4,"dy":34},"encoding":{"x":{"datum":180,"axis":null},"y":{"datum":0,"axis":null}}},
      {"data":{"values":[{}]},"mark":{"type":"text","text":"(°)","fontSize":12,"baseline":"middle","dx":16,"dy":27},"encoding":{"x":{"datum":180,"axis":null},"y":{"datum":0,"axis":null}}}]},
    {"width":45,"height":115,"resolve":{"axis":{"x":"independent","y":"independent"}},"layer":[{"encoding":{"x":{"field":"p","type":"quantitative","scale":{"domain":[0,360],"nice":false},"axis":{"values":[0,180,360],"title":null,"labelPadding":4,"labelOverlap":false}},"y":{"field":"m","type":"quantitative","scale":{"domain":[0,2],"nice":false},"axis":{"values":[0,0.5,1,1.5,2],"title":null,"labels":false}}},"layer":[{"data":{"name":"cos"},"mark":{"type":"line","color":"#bcbcbc","strokeWidth":2.5}},{"data":{"name":"g"},"transform":[{"filter":"datum.r=='S1'&&datum.c=='ANES'"}],"layer":[{"mark":{"type":"errorbar","ticks":{"size":3},"color":"#333","thickness":0.8},"encoding":{"yError":{"field":"e"}}},{"mark":{"type":"line","color":"#222","strokeWidth":1}}]}]},
      {"data":{"values":[{}]},"mark":{"type":"text","text":"ϕ","fontSize":16,"baseline":"middle","dx":-20,"dy":30},"encoding":{"x":{"datum":180,"axis":null},"y":{"datum":0,"axis":null}}},
      {"data":{"values":[{}]},"mark":{"type":"text","text":"Slow","fontSize":11,"baseline":"middle","dx":-4,"dy":34},"encoding":{"x":{"datum":180,"axis":null},"y":{"datum":0,"axis":null}}},
      {"data":{"values":[{}]},"mark":{"type":"text","text":"(°)","fontSize":12,"baseline":"middle","dx":16,"dy":27},"encoding":{"x":{"datum":180,"axis":null},"y":{"datum":0,"axis":null}}}]},
    {"width":45,"height":115,"resolve":{"axis":{"x":"independent","y":"independent"}},"layer":[{"encoding":{"x":{"field":"p","type":"quantitative","scale":{"domain":[0,360],"nice":false},"axis":{"values":[0,180,360],"title":null,"labelPadding":4,"labelOverlap":false}},"y":{"field":"m","type":"quantitative","scale":{"domain":[0,2],"nice":false},"axis":{"values":[0,0.5,1,1.5,2],"title":null,"labels":false}}},"layer":[{"data":{"name":"cos"},"mark":{"type":"line","color":"#bcbcbc","strokeWidth":2.5}},{"data":{"name":"g"},"transform":[{"filter":"datum.r=='S1'&&datum.c=='ROM'"}],"layer":[{"mark":{"type":"errorbar","ticks":{"size":3},"color":"#333","thickness":0.8},"encoding":{"yError":{"field":"e"}}},{"mark":{"type":"line","color":"#222","strokeWidth":1}}]}]},
      {"data":{"values":[{}]},"mark":{"type":"text","text":"ϕ","fontSize":16,"baseline":"middle","dx":-20,"dy":30},"encoding":{"x":{"datum":180,"axis":null},"y":{"datum":0,"axis":null}}},
      {"data":{"values":[{}]},"mark":{"type":"text","text":"Slow","fontSize":11,"baseline":"middle","dx":-4,"dy":34},"encoding":{"x":{"datum":180,"axis":null},"y":{"datum":0,"axis":null}}},
      {"data":{"values":[{}]},"mark":{"type":"text","text":"(°)","fontSize":12,"baseline":"middle","dx":16,"dy":27},"encoding":{"x":{"datum":180,"axis":null},"y":{"datum":0,"axis":null}}}]},
    {"width":45,"height":115,"resolve":{"axis":{"x":"independent","y":"independent"}},"layer":[{"encoding":{"x":{"field":"p","type":"quantitative","scale":{"domain":[0,360],"nice":false},"axis":{"values":[0,180,360],"title":null,"labelPadding":4,"labelOverlap":false}},"y":{"field":"m","type":"quantitative","scale":{"domain":[0,2],"nice":false},"axis":{"values":[0,0.5,1,1.5,2],"title":null,"labels":false}}},"layer":[{"data":{"name":"cos"},"mark":{"type":"line","color":"#bcbcbc","strokeWidth":2.5}},{"data":{"name":"g"},"transform":[{"filter":"datum.r=='S1'&&datum.c=='RECV'"}],"layer":[{"mark":{"type":"errorbar","ticks":{"size":3},"color":"#333","thickness":0.8},"encoding":{"yError":{"field":"e"}}},{"mark":{"type":"line","color":"#222","strokeWidth":1}}]}]},
      {"data":{"values":[{}]},"mark":{"type":"text","text":"ϕ","fontSize":16,"baseline":"middle","dx":-20,"dy":30},"encoding":{"x":{"datum":180,"axis":null},"y":{"datum":0,"axis":null}}},
      {"data":{"values":[{}]},"mark":{"type":"text","text":"Slow","fontSize":11,"baseline":"middle","dx":-4,"dy":34},"encoding":{"x":{"datum":180,"axis":null},"y":{"datum":0,"axis":null}}},
      {"data":{"values":[{}]},"mark":{"type":"text","text":"(°)","fontSize":12,"baseline":"middle","dx":16,"dy":27},"encoding":{"x":{"datum":180,"axis":null},"y":{"datum":0,"axis":null}}}]},
    {"width":45.5,"height":115,"view":{"stroke":null},"data":{"values":[]},"mark":"point"},
    {"width":45,"height":115,"resolve":{"axis":{"x":"independent","y":"independent"}},"layer":[{"encoding":{"x":{"field":"p","type":"quantitative","scale":{"domain":[0,360],"nice":false},"axis":{"values":[0,180,360],"title":null,"labelPadding":4,"labelOverlap":false}},"y":{"field":"m","type":"quantitative","scale":{"domain":[0,2],"nice":false},"axis":{"values":[0,0.5,1,1.5,2],"format":"~g","title":"Gamma power ratio","labelPadding":5,"titlePadding":10,"labelOverlap":false}}},"layer":[{"data":{"name":"cos"},"mark":{"type":"line","color":"#bcbcbc","strokeWidth":2.5}},{"data":{"name":"g"},"transform":[{"filter":"datum.r=='VPM'&&datum.c=='BASE'"}],"layer":[{"mark":{"type":"errorbar","ticks":{"size":3},"color":"#333","thickness":0.8},"encoding":{"yError":{"field":"e"}}},{"mark":{"type":"line","color":"#222","strokeWidth":1}}]}]},
      {"data":{"values":[{}]},"mark":{"type":"text","text":"VPM","fontSize":16,"fontWeight":"bold","align":"left","baseline":"middle","dx":4,"dy":11},"encoding":{"x":{"datum":0,"axis":null},"y":{"datum":2,"axis":null}}},
      {"data":{"values":[{}]},"mark":{"type":"text","text":"B","fontSize":16,"fontWeight":"bold","align":"center","baseline":"middle","dx":-53,"dy":-169},"encoding":{"x":{"datum":0,"axis":null},"y":{"datum":2,"axis":null}}},
      {"data":{"values":[{}]},"mark":{"type":"text","text":"D","fontSize":16,"fontWeight":"bold","align":"center","baseline":"middle","dx":-60,"dy":-12},"encoding":{"x":{"datum":0,"axis":null},"y":{"datum":2,"axis":null}}},
      {"data":{"values":[{}]},"mark":{"type":"text","text":"ϕ","fontSize":16,"baseline":"middle","dx":-20,"dy":30},"encoding":{"x":{"datum":180,"axis":null},"y":{"datum":0,"axis":null}}},
      {"data":{"values":[{}]},"mark":{"type":"text","text":"Slow","fontSize":11,"baseline":"middle","dx":-4,"dy":34},"encoding":{"x":{"datum":180,"axis":null},"y":{"datum":0,"axis":null}}},
      {"data":{"values":[{}]},"mark":{"type":"text","text":"(°)","fontSize":12,"baseline":"middle","dx":16,"dy":27},"encoding":{"x":{"datum":180,"axis":null},"y":{"datum":0,"axis":null}}}]},
    {"width":45,"height":115,"resolve":{"axis":{"x":"independent","y":"independent"}},"layer":[{"encoding":{"x":{"field":"p","type":"quantitative","scale":{"domain":[0,360],"nice":false},"axis":{"values":[0,180,360],"title":null,"labelPadding":4,"labelOverlap":false}},"y":{"field":"m","type":"quantitative","scale":{"domain":[0,2],"nice":false},"axis":{"values":[0,0.5,1,1.5,2],"title":null,"labels":false}}},"layer":[{"data":{"name":"cos"},"mark":{"type":"line","color":"#bcbcbc","strokeWidth":2.5}},{"data":{"name":"g"},"transform":[{"filter":"datum.r=='VPM'&&datum.c=='LOM'"}],"layer":[{"mark":{"type":"errorbar","ticks":{"size":3},"color":"#333","thickness":0.8},"encoding":{"yError":{"field":"e"}}},{"mark":{"type":"line","color":"#222","strokeWidth":1}}]}]},
      {"data":{"values":[{}]},"mark":{"type":"text","text":"ϕ","fontSize":16,"baseline":"middle","dx":-20,"dy":30},"encoding":{"x":{"datum":180,"axis":null},"y":{"datum":0,"axis":null}}},
      {"data":{"values":[{}]},"mark":{"type":"text","text":"Slow","fontSize":11,"baseline":"middle","dx":-4,"dy":34},"encoding":{"x":{"datum":180,"axis":null},"y":{"datum":0,"axis":null}}},
      {"data":{"values":[{}]},"mark":{"type":"text","text":"(°)","fontSize":12,"baseline":"middle","dx":16,"dy":27},"encoding":{"x":{"datum":180,"axis":null},"y":{"datum":0,"axis":null}}}]},
    {"width":45,"height":115,"resolve":{"axis":{"x":"independent","y":"independent"}},"layer":[{"encoding":{"x":{"field":"p","type":"quantitative","scale":{"domain":[0,360],"nice":false},"axis":{"values":[0,180,360],"title":null,"labelPadding":4,"labelOverlap":false}},"y":{"field":"m","type":"quantitative","scale":{"domain":[0,2],"nice":false},"axis":{"values":[0,0.5,1,1.5,2],"title":null,"labels":false}}},"layer":[{"data":{"name":"cos"},"mark":{"type":"line","color":"#bcbcbc","strokeWidth":2.5}},{"data":{"name":"g"},"transform":[{"filter":"datum.r=='VPM'&&datum.c=='ANES'"}],"layer":[{"mark":{"type":"errorbar","ticks":{"size":3},"color":"#333","thickness":0.8},"encoding":{"yError":{"field":"e"}}},{"mark":{"type":"line","color":"#222","strokeWidth":1}}]}]},
      {"data":{"values":[{}]},"mark":{"type":"text","text":"ϕ","fontSize":16,"baseline":"middle","dx":-20,"dy":30},"encoding":{"x":{"datum":180,"axis":null},"y":{"datum":0,"axis":null}}},
      {"data":{"values":[{}]},"mark":{"type":"text","text":"Slow","fontSize":11,"baseline":"middle","dx":-4,"dy":34},"encoding":{"x":{"datum":180,"axis":null},"y":{"datum":0,"axis":null}}},
      {"data":{"values":[{}]},"mark":{"type":"text","text":"(°)","fontSize":12,"baseline":"middle","dx":16,"dy":27},"encoding":{"x":{"datum":180,"axis":null},"y":{"datum":0,"axis":null}}}]},
    {"width":45,"height":115,"resolve":{"axis":{"x":"independent","y":"independent"}},"layer":[{"encoding":{"x":{"field":"p","type":"quantitative","scale":{"domain":[0,360],"nice":false},"axis":{"values":[0,180,360],"title":null,"labelPadding":4,"labelOverlap":false}},"y":{"field":"m","type":"quantitative","scale":{"domain":[0,2],"nice":false},"axis":{"values":[0,0.5,1,1.5,2],"title":null,"labels":false}}},"layer":[{"data":{"name":"cos"},"mark":{"type":"line","color":"#bcbcbc","strokeWidth":2.5}},{"data":{"name":"g"},"transform":[{"filter":"datum.r=='VPM'&&datum.c=='ROM'"}],"layer":[{"mark":{"type":"errorbar","ticks":{"size":3},"color":"#333","thickness":0.8},"encoding":{"yError":{"field":"e"}}},{"mark":{"type":"line","color":"#222","strokeWidth":1}}]}]},
      {"data":{"values":[{}]},"mark":{"type":"text","text":"ϕ","fontSize":16,"baseline":"middle","dx":-20,"dy":30},"encoding":{"x":{"datum":180,"axis":null},"y":{"datum":0,"axis":null}}},
      {"data":{"values":[{}]},"mark":{"type":"text","text":"Slow","fontSize":11,"baseline":"middle","dx":-4,"dy":34},"encoding":{"x":{"datum":180,"axis":null},"y":{"datum":0,"axis":null}}},
      {"data":{"values":[{}]},"mark":{"type":"text","text":"(°)","fontSize":12,"baseline":"middle","dx":16,"dy":27},"encoding":{"x":{"datum":180,"axis":null},"y":{"datum":0,"axis":null}}}]},
    {"width":45,"height":115,"resolve":{"axis":{"x":"independent","y":"independent"}},"layer":[{"encoding":{"x":{"field":"p","type":"quantitative","scale":{"domain":[0,360],"nice":false},"axis":{"values":[0,180,360],"title":null,"labelPadding":4,"labelOverlap":false}},"y":{"field":"m","type":"quantitative","scale":{"domain":[0,2],"nice":false},"axis":{"values":[0,0.5,1,1.5,2],"title":null,"labels":false}}},"layer":[{"data":{"name":"cos"},"mark":{"type":"line","color":"#bcbcbc","strokeWidth":2.5}},{"data":{"name":"g"},"transform":[{"filter":"datum.r=='VPM'&&datum.c=='RECV'"}],"layer":[{"mark":{"type":"errorbar","ticks":{"size":3},"color":"#333","thickness":0.8},"encoding":{"yError":{"field":"e"}}},{"mark":{"type":"line","color":"#222","strokeWidth":1}}]}]},
      {"data":{"values":[{}]},"mark":{"type":"text","text":"ϕ","fontSize":16,"baseline":"middle","dx":-20,"dy":30},"encoding":{"x":{"datum":180,"axis":null},"y":{"datum":0,"axis":null}}},
      {"data":{"values":[{}]},"mark":{"type":"text","text":"Slow","fontSize":11,"baseline":"middle","dx":-4,"dy":34},"encoding":{"x":{"datum":180,"axis":null},"y":{"datum":0,"axis":null}}},
      {"data":{"values":[{}]},"mark":{"type":"text","text":"(°)","fontSize":12,"baseline":"middle","dx":16,"dy":27},"encoding":{"x":{"datum":180,"axis":null},"y":{"datum":0,"axis":null}}}]}
  ]},
 {"hconcat":[
  {"width":110,"height":138,"view":{"stroke":"transparent","fill":"transparent"},
   "layer":[
    {"data":{"values":[{}]},"mark":{"type":"point","shape":"circle","size":12100,"filled":false,"color":"#000","strokeWidth":1,"opacity":1},"encoding":{"x":{"datum":0,"type":"quantitative","scale":{"domain":[-1,1],"nice":false,"zero":false},"axis":null},"y":{"datum":0,"type":"quantitative","scale":{"domain":[-1.2545,1.2545],"nice":false,"zero":false},"axis":null}}},
    {"data":{"name":"spokes"},"mark":{"type":"rule","color":"#222","strokeDash":[1,3],"strokeWidth":1},"encoding":{"x":{"field":"x","type":"quantitative","axis":null},"y":{"field":"y","type":"quantitative","axis":null},"x2":{"field":"x2"},"y2":{"field":"y2"}}},
    {"data":{"name":"plab"},"mark":{"type":"text","fontSize":14,"radius":60,"baseline":"middle","align":"center"},"encoding":{"x":{"datum":0,"type":"quantitative","axis":null},"y":{"datum":0,"type":"quantitative","axis":null},"theta":{"field":"deg","type":"quantitative","scale":{"domain":[0,360],"range":[1.5708,-4.7124]}},"text":{"field":"t"}}},
    {"data":{"name":"arr"},"mark":{"type":"rule","strokeWidth":2.5},"encoding":{"x":{"field":"x","type":"quantitative","axis":null},"y":{"field":"y","type":"quantitative","axis":null},"x2":{"datum":0},"y2":{"datum":0},
      "color":{"field":"s","type":"nominal","scale":{"domain":["M1, min","M1, max","S1, min","S1, max"],"range":["#e235e2","#ec2020","#2ee0e0","#1414cc"]},"legend":{"title":null,"orient":"none","legendX":132,"legendY":28,"symbolType":"M-1.21,0L3,0","symbolSize":361,"symbolStrokeWidth":2.5,"labelFontSize":14,"labelFont":"Liberation Sans","labelColor":"#000","labelOffset":24,"strokeColor":"#666","padding":5,"rowPadding":4.3}},
      "strokeDash":{"field":"s","type":"nominal","scale":{"domain":["M1, min","M1, max","S1, min","S1, max"],"range":[[7,5],[1,0],[7,5],[1,0]]},"legend":{"title":null,"orient":"none","legendX":132,"legendY":28,"symbolType":"M-1.21,0L3,0","symbolSize":361,"symbolStrokeWidth":2.5,"labelFontSize":14,"labelFont":"Liberation Sans","labelColor":"#000","labelOffset":24,"strokeColor":"#666","padding":5,"rowPadding":4.3}}}},
    {"data":{"name":"arr"},"mark":{"type":"point","shape":"M-1,-0.7L0,0L-1,0.7","size":220,"filled":false,"strokeWidth":2.5,"opacity":1},"encoding":{"x":{"field":"x","type":"quantitative","axis":null},"y":{"field":"y","type":"quantitative","axis":null},"angle":{"field":"ang","type":"quantitative","scale":null},"color":{"field":"s","type":"nominal","legend":null}}},
    {"data":{"values":[{}]},"mark":{"type":"text","text":"ANES","fontSize":16,"baseline":"middle"},"encoding":{"x":{"datum":0,"axis":null},"y":{"datum":1.473,"axis":null}}},
    {"data":{"values":[{}]},"mark":{"type":"text","text":"E","fontSize":16,"fontWeight":"bold","baseline":"middle"},"encoding":{"x":{"datum":-1.327,"axis":null},"y":{"datum":1.545,"axis":null}}},
    {"data":{"values":[{}]},"mark":{"type":"text","text":"F","fontSize":16,"fontWeight":"bold","baseline":"middle"},"encoding":{"x":{"datum":3.98,"axis":null},"y":{"datum":1.545,"axis":null}}},
    {"data":{"values":[{}]},"mark":{"type":"text","text":"ϕ","fontSize":16,"baseline":"middle"},"encoding":{"x":{"datum":0.891,"axis":null},"y":{"datum":1.218,"axis":null}}},
    {"data":{"values":[{}]},"mark":{"type":"text","text":"Slow","fontSize":11,"baseline":"middle"},"encoding":{"x":{"datum":1.17,"axis":null},"y":{"datum":1.155,"axis":null}}},
    {"data":{"values":[{}]},"mark":{"type":"text","text":"(°)","fontSize":12,"baseline":"middle"},"encoding":{"x":{"datum":1.6,"axis":null},"y":{"datum":1.273,"axis":null}}}
   ]},
  {"width":341,"height":116.3,
   "layer":[
    {"data":{"name":"bars"},
     "encoding":{"x":{"field":"r","type":"nominal","sort":null,"scale":{"domain":["M1","S1","VL","VPM"],"paddingInner":0,"paddingOuter":0},"axis":{"orient":"top","title":null,"labelAngle":0,"labelPadding":4,"grid":false,"labelOverlap":false}},
       "xOffset":{"field":"s","type":"nominal","scale":{"domain":["OFF","ON"],"paddingInner":0.54,"paddingOuter":1.04}}},
     "layer":[
      {"mark":{"type":"bar","strokeWidth":1},"encoding":{"y":{"field":"m","type":"quantitative","scale":{"domain":[0,2.3],"nice":false},"axis":{"values":[0,0.5,1,1.5,2],"format":"~g","labelOverlap":false,"title":["Gamma power ratio","during ANES"],"titleLineHeight":20,"grid":false,"labelPadding":5,"titlePadding":3}},
        "fill":{"field":"s","type":"nominal","scale":{"domain":["OFF","ON"],"range":["#000000","#ffffff"]},"legend":null},
        "stroke":{"field":"s","type":"nominal","scale":{"domain":["OFF","ON"],"range":["#000000","#c4c4c4"]},"legend":null}}},
      {"mark":{"type":"rule","strokeWidth":1},"encoding":{"y":{"field":"lo","type":"quantitative"},"y2":{"field":"hi"},"stroke":{"field":"s","type":"nominal","legend":null}}},
      {"mark":{"type":"tick","size":7,"thickness":1},"encoding":{"y":{"field":"lo","type":"quantitative"},"stroke":{"field":"s","type":"nominal","legend":null}}},
      {"mark":{"type":"tick","size":7,"thickness":1},"encoding":{"y":{"field":"hi","type":"quantitative"},"stroke":{"field":"s","type":"nominal","legend":null}}},
      {"transform":[{"filter":"datum.a==1"}],"mark":{"type":"point","shape":"M0,-1L0,1M-0.866,-0.5L0.866,0.5M-0.866,0.5L0.866,-0.5","size":90,"filled":false,"strokeWidth":2,"color":"#000","opacity":1},"encoding":{"y":{"datum":2}}},
      {"mark":{"type":"text","angle":-55,"align":"right","baseline":"middle","fontSize":14},"encoding":{"y":{"datum":-0.1},"text":{"field":"s"}}}
     ]},
    {"data":{"values":[{}]},"mark":{"type":"rule","color":"#808080","strokeDash":[10,7],"strokeWidth":1.2},"encoding":{"y":{"datum":1}}}
   ]}
 ],"spacing":242,"bounds":"flush","resolve":{"scale":{"color":"independent","strokeDash":"independent"}}}
]
}
